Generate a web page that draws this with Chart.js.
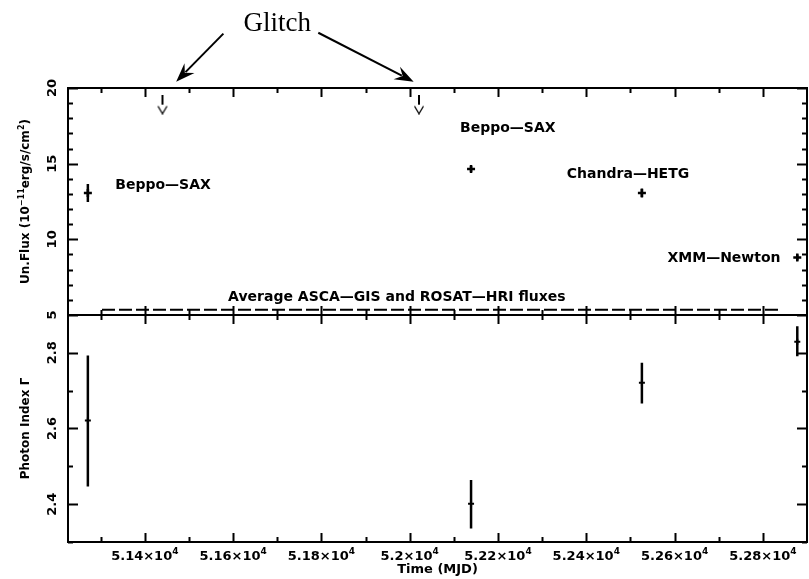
<!DOCTYPE html>
<html>
<head>
<meta charset="utf-8">
<script src="https://cdn.jsdelivr.net/npm/chart.js@4.4.1/dist/chart.umd.min.js"></script>
<style>
  html, body { margin: 0; padding: 0; background: #fff; }
  #chart { display: block; }
</style>
</head>
<body>
<canvas id="chart" width="809" height="579"></canvas>
<script>
// --- data (MJD, flux in 1e-11 erg/s/cm2, photon index) ---
const obsMjd = [51271, 52139, 52526, 52878];
const obsFlux = [13.06, 14.65, 13.06, 8.8];
const obsFluxErr = [0.6, 0.2, 0.3, 0.2];
const obsIndex = [2.621, 2.401, 2.721, 2.829];
const obsIndexLo = [2.447, 2.336, 2.666, 2.791];
const obsIndexHi = [2.793, 2.464, 2.774, 2.870];

// glitch upper limits
const glitchMjd = [51440, 52021];
const glitchFlux = [18.9, 18.9];

// average ASCA-GIS / ROSAT-HRI level
const avgMjd = [51303, 52838];
const avgFlux = [5.35, 5.35];

// axes
const xMin = 51226, xMax = 52900;
const xMajorTicks = [51400, 51600, 51800, 52000, 52200, 52400, 52600, 52800];
const xTickLabels = ['5.14', '5.16', '5.18', '5.2', '5.22', '5.24', '5.26', '5.28'];
const fluxTicks = [5, 10, 15, 20];
const fluxTickLabels = ['5', '10', '15', '20'];
const indexTicks = [2.4, 2.6, 2.8];
const indexTickLabels = ['2.4', '2.6', '2.8'];

// annotation labels (anchored in data coords of the flux panel)
const labelText = ['Beppo\u2014SAX', 'Beppo\u2014SAX', 'Chandra\u2014HETG', 'XMM\u2014Newton'];
const labelMjd = [51333, 52114, 52356, 52584];
const labelFlux = [13.54, 17.31, 14.27, 8.72];
const avgLabel = 'Average ASCA\u2014GIS and ROSAT\u2014HRI fluxes';
const avgLabelPos = [51971, 6.16];
const glitchLabelPos = [51700, 23.79];
const glitchArrows = [
  [51578, 23.59, 51471, 20.42],
  [51793, 23.65, 52009, 20.42]
];

const LBL = 'bold 14px "DejaVu Sans"';

// down-arrow marker for the upper limits
function makeLimitMarker() {
  const c = document.createElement('canvas');
  c.width = 12; c.height = 20;
  const g = c.getContext('2d');
  g.strokeStyle = '#000';
  g.lineWidth = 2;
  g.beginPath(); g.moveTo(6, 0); g.lineTo(6, 10); g.stroke();
  g.lineWidth = 1.3;
  g.beginPath(); g.moveTo(1.5, 11.5); g.lineTo(6, 19); g.lineTo(10.5, 11.5); g.stroke();
  return c;
}

function pts(xs, ys) {
  return xs.map((x, i) => ({x: x, y: ys[i]}));
}

// draws text made of normal and superscript pieces
function richText(ctx, parts, size, x, y, align, rotate) {
  ctx.save();
  ctx.translate(x, y);
  if (rotate) ctx.rotate(-Math.PI / 2);
  const supSize = Math.round(size * 0.7);
  let total = 0;
  parts.forEach(p => {
    ctx.font = 'bold ' + (p.sup ? supSize : size) + 'px "DejaVu Sans"';
    p.w = ctx.measureText(p.t).width;
    total += p.w;
  });
  let cx = align === 'center' ? -total / 2 : 0;
  ctx.textBaseline = 'alphabetic';
  ctx.textAlign = 'left';
  parts.forEach(p => {
    ctx.font = 'bold ' + (p.sup ? supSize : size) + 'px "DejaVu Sans"';
    ctx.fillText(p.t, cx, p.sup ? -size * 0.45 : 0);
    cx += p.w;
  });
  ctx.restore();
}

const errorBars = {
  id: 'errorBars',
  afterDatasetsDraw(chart) {
    const ctx = chart.ctx, x = chart.scales.x, yF = chart.scales.yF, yG = chart.scales.yG;
    ctx.save();
    ctx.strokeStyle = '#000';
    ctx.lineWidth = 2.5;
    obsMjd.forEach((m, i) => {
      const px = x.getPixelForValue(m);
      ctx.beginPath();
      ctx.moveTo(px, yF.getPixelForValue(obsFlux[i] - obsFluxErr[i]));
      ctx.lineTo(px, yF.getPixelForValue(obsFlux[i] + obsFluxErr[i]));
      ctx.moveTo(px, yG.getPixelForValue(obsIndexLo[i]));
      ctx.lineTo(px, yG.getPixelForValue(obsIndexHi[i]));
      ctx.stroke();
    });
    ctx.restore();
  }
};

const frame = {
  id: 'frame',
  afterDraw(chart) {
    const ctx = chart.ctx, x = chart.scales.x, yF = chart.scales.yF, yG = chart.scales.yG;
    const L = chart.chartArea.left, R = chart.chartArea.right;
    const T = yF.top, M = yF.bottom, B = yG.bottom;
    ctx.save();
    ctx.strokeStyle = '#000';
    ctx.fillStyle = '#000';
    ctx.lineWidth = 2;
    ctx.strokeRect(L, T, R - L, B - T);
    ctx.beginPath(); ctx.moveTo(L, M); ctx.lineTo(R, M); ctx.stroke();

    // x ticks, every 100 days
    ctx.beginPath();
    for (let m = 51300; m < xMax; m += 100) {
      const px = Math.round(x.getPixelForValue(m)) + 0.5;
      const len = xMajorTicks.includes(m) ? 9 : 5;
      ctx.moveTo(px, B); ctx.lineTo(px, B - len);
      ctx.moveTo(px, M); ctx.lineTo(px, M + len);
      ctx.moveTo(px, M); ctx.lineTo(px, M - len);
      ctx.moveTo(px, T); ctx.lineTo(px, T + len);
    }
    // flux ticks
    for (let v = 5; v <= 20; v++) {
      const py = Math.round(yF.getPixelForValue(v)) + 0.5;
      const len = fluxTicks.includes(v) ? 10 : 5;
      ctx.moveTo(L, py); ctx.lineTo(L + len, py);
      ctx.moveTo(R, py); ctx.lineTo(R - len, py);
    }
    // photon index ticks
    [2.3, 2.4, 2.5, 2.6, 2.7, 2.8, 2.9].forEach(v => {
      const py = Math.round(yG.getPixelForValue(v)) + 0.5;
      const len = indexTicks.includes(v) ? 10 : 5;
      ctx.moveTo(L, py); ctx.lineTo(L + len, py);
      ctx.moveTo(R, py); ctx.lineTo(R - len, py);
    });
    ctx.stroke();

    // x tick labels
    xMajorTicks.forEach((m, i) => {
      richText(ctx, [{t: xTickLabels[i] + '\u00d710'}, {t: '4', sup: true}], 13,
        x.getPixelForValue(m), B + 18, 'center', false);
    });
    // y tick labels (rotated)
    ctx.font = 'bold 13px "DejaVu Sans"';
    ctx.textAlign = 'center';
    ctx.textBaseline = 'middle';
    const rot = (txt, px, py) => {
      ctx.save(); ctx.translate(px, py); ctx.rotate(-Math.PI / 2);
      ctx.fillText(txt, 0, 0); ctx.restore();
    };
    fluxTicks.forEach((v, i) => rot(fluxTickLabels[i], L - 15, yF.getPixelForValue(v)));
    indexTicks.forEach((v, i) => rot(indexTickLabels[i], L - 15, yG.getPixelForValue(v)));

    // axis titles
    richText(ctx, [{t: 'Time (MJD)'}], 13, (L + R) / 2, B + 31, 'center', false);
    richText(ctx, [{t: 'Un.Flux (10'}, {t: '\u221211', sup: true}, {t: 'erg/s/cm'}, {t: '2', sup: true}, {t: ')'}],
      12, L - 39, (T + M) / 2, 'center', true);
    richText(ctx, [{t: 'Photon Index \u0393'}], 12, L - 39, (M + B) / 2, 'center', true);

    // panel labels
    ctx.font = LBL;
    ctx.textAlign = 'left';
    ctx.textBaseline = 'middle';
    labelText.forEach((t, i) => {
      ctx.fillText(t, x.getPixelForValue(labelMjd[i]), yF.getPixelForValue(labelFlux[i]));
    });
    ctx.textAlign = 'center';
    ctx.fillText(avgLabel, x.getPixelForValue(avgLabelPos[0]), yF.getPixelForValue(avgLabelPos[1]));

    // "Glitch" callout
    ctx.font = '27px "Liberation Serif"';
    ctx.textBaseline = 'alphabetic';
    ctx.fillText('Glitch', x.getPixelForValue(glitchLabelPos[0]), yF.getPixelForValue(glitchLabelPos[1]));
    glitchArrows.forEach(a => {
      const x0 = x.getPixelForValue(a[0]), y0 = yF.getPixelForValue(a[1]);
      const x1 = x.getPixelForValue(a[2]), y1 = yF.getPixelForValue(a[3]);
      const ang = Math.atan2(y1 - y0, x1 - x0);
      const hl = 19, hw = 7;
      ctx.lineWidth = 2;
      ctx.beginPath(); ctx.moveTo(x0, y0);
      ctx.lineTo(x1 - Math.cos(ang) * hl * 0.7, y1 - Math.sin(ang) * hl * 0.7); ctx.stroke();
      ctx.save();
      ctx.translate(x1, y1); ctx.rotate(ang);
      ctx.beginPath();
      ctx.moveTo(0, 0); ctx.lineTo(-hl, -hw); ctx.lineTo(-hl * 0.65, 0); ctx.lineTo(-hl, hw);
      ctx.closePath(); ctx.fill();
      ctx.restore();
    });
    ctx.restore();
  }
};

const ctx = document.getElementById('chart').getContext('2d');
new Chart(ctx, {
  type: 'scatter',
  data: {
    datasets: [
      {
        label: 'Average flux',
        type: 'line',
        data: pts(avgMjd, avgFlux),
        xAxisID: 'x', yAxisID: 'yF',
        borderColor: '#000', borderWidth: 2, borderDash: [13, 4],
        pointRadius: 0, fill: false
      },
      {
        label: 'Flux',
        data: pts(obsMjd, obsFlux),
        xAxisID: 'x', yAxisID: 'yF',
        pointStyle: 'cross', pointRadius: 4, borderWidth: 2.5,
        borderColor: '#000', backgroundColor: '#000'
      },
      {
        label: 'Glitch',
        data: pts(glitchMjd, glitchFlux),
        xAxisID: 'x', yAxisID: 'yF',
        pointStyle: makeLimitMarker(), pointRadius: 6
      },
      {
        label: 'Photon index',
        data: pts(obsMjd, obsIndex),
        xAxisID: 'x', yAxisID: 'yG',
        pointStyle: 'cross', pointRadius: 3, borderWidth: 2,
        borderColor: '#000', backgroundColor: '#000'
      }
    ]
  },
  options: {
    responsive: false,
    animation: false,
    devicePixelRatio: 1,
    layout: { autoPadding: false, padding: { left: 68, top: 88, right: 2, bottom: 37 } },
    plugins: { legend: { display: false }, tooltip: { enabled: false } },
    scales: {
      x: { type: 'linear', min: xMin, max: xMax, display: false },
      yG: { type: 'linear', min: 2.3, max: 2.9, display: false, position: 'left', stack: 'panels', stackWeight: 1, weight: 1 },
      yF: { type: 'linear', min: 5, max: 20, display: false, position: 'left', stack: 'panels', stackWeight: 1, weight: 2 }
    }
  },
  plugins: [errorBars, frame]
});
</script>
</body>
</html>
